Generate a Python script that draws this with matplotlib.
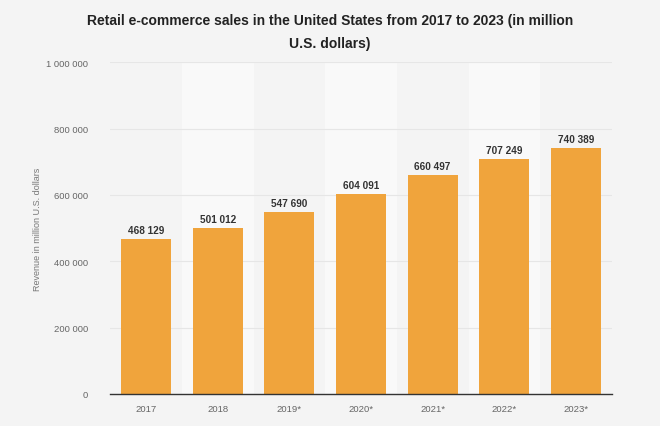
import matplotlib.pyplot as plt

years = ["2017", "2018", "2019*", "2020*", "2021*", "2022*", "2023*"]
sales = [468129, 501012, 547690, 604091, 660497, 707249, 740389]
yticks = [0, 200000, 400000, 600000, 800000, 1000000]

plt.rcParams['font.family'] = ['Liberation Sans', 'DejaVu Sans']

fig = plt.figure(figsize=(6.6, 4.27), dpi=100)
fig.patch.set_facecolor("#f4f4f4")
ax = fig.add_axes([0.167, 0.075, 0.76, 0.777])
ax.set_facecolor("#f4f4f4")

x = list(range(len(years)))

# alternating column bands
for i in x:
    if i % 2 == 1:
        ax.axvspan(i - 0.5, i + 0.5, color="#f9f9f9", zorder=0, lw=0)

ax.bar(x, sales, width=0.7, color="#f0a43c", zorder=3)

for xi, v in zip(x, sales):
    ax.text(xi, v + 12000, f"{v:,}".replace(",", " "), ha="center", va="bottom",
            fontsize=7.2, fontweight="bold", color="#333333", zorder=4)

ax.set_xlim(-0.5, len(years) - 0.5)
ax.set_ylim(0, 1000000)
ax.set_yticks(yticks)
ax.set_yticklabels([f"{t:,}".replace(",", " ") for t in yticks])
ax.set_xticks(x)
ax.set_xticklabels(years)
ax.tick_params(axis="both", length=0, labelsize=6.8, colors="#666666")
ax.tick_params(axis="y", pad=16)
ax.tick_params(axis="x", pad=7)

ax.grid(axis="y", color="#e6e6e6", lw=0.8, zorder=1)
for s in ["top", "right", "left"]:
    ax.spines[s].set_visible(False)
ax.spines["bottom"].set_color("#333333")
ax.spines["bottom"].set_linewidth(1)
ax.spines["bottom"].set_zorder(5)

ax.set_ylabel("Revenue in million U.S. dollars", fontsize=6.5, color="#777777", labelpad=3)

fig.text(0.5, 0.95, "Retail e-commerce sales in the United States from 2017 to 2023 (in million",
         ha="center", va="center", fontsize=10, fontweight="bold", color="#222222")
fig.text(0.5, 0.898, "U.S. dollars)", ha="center", va="center", fontsize=10,
         fontweight="bold", color="#222222")

fig.savefig("out.png", dpi=100, facecolor=fig.get_facecolor())
